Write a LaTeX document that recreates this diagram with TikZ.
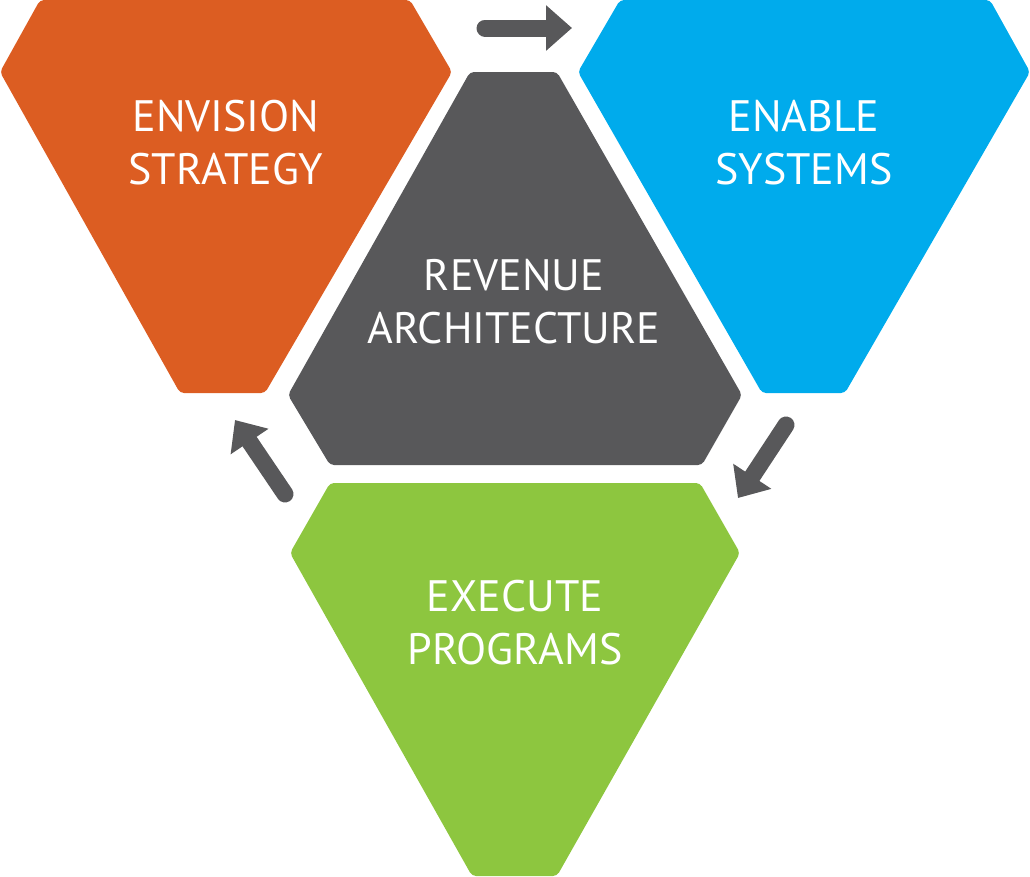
\documentclass[tikz,border=0pt]{standalone}
\usepackage{fontspec}
\setmainfont{PT Sans}
\usetikzlibrary{arrows.meta}
\definecolor{corange}{HTML}{DC5D22}
\definecolor{cblue}{HTML}{00ABEC}
\definecolor{cgray}{HTML}{58585A}
\definecolor{cgreen}{HTML}{8DC63F}
\tikzset{
  panel/.style={rounded corners=4pt},
  lbl/.style={text=white,font=\fontsize{44}{53}\selectfont,align=center},
  flow/.style={draw=cgray,line width=17pt,line cap=round,-{Triangle[width=44pt,length=26pt]}}
}
\begin{document}
\begin{tikzpicture}[x=1pt,y=-1pt]
\useasboundingbox (0,0) rectangle (1030,876);
\fill[corange,panel] (40,0) -- (410,0) -- (452,72) -- (265,393) -- (180,393) -- (0,72) -- cycle;
\fill[cblue,panel] (620,0) -- (990,0) -- (1030,72) -- (845,393) -- (762,393) -- (578,72) -- cycle;
\fill[cgray,panel] (470,72) -- (557,72) -- (742,395) -- (702,465) -- (330,465) -- (288,395) -- cycle;
\fill[cgreen,panel] (330,483) -- (700,483) -- (740,553) -- (557,876) -- (472,876) -- (290,553) -- cycle;
\node[lbl] (envision) at (226,143) {ENVISION\\STRATEGY};
\node[lbl] (enable) at (804,143) {ENABLE\\SYSTEMS};
\node[lbl] (revenue) at (514,302) {REVENUE\\ARCHITECTURE};
\node[lbl] (execute) at (515,623) {EXECUTE\\PROGRAMS};
\coordinate (a1s) at (485,28); \coordinate (a1e) at (572,28);
\coordinate (a2s) at (786,425); \coordinate (a2e) at (738,498);
\coordinate (a3s) at (285,494); \coordinate (a3e) at (235,420);
\draw[flow] (a1s) -- (a1e);
\draw[flow] (a2s) -- (a2e);
\draw[flow] (a3s) -- (a3e);
\end{tikzpicture}
\end{document}
